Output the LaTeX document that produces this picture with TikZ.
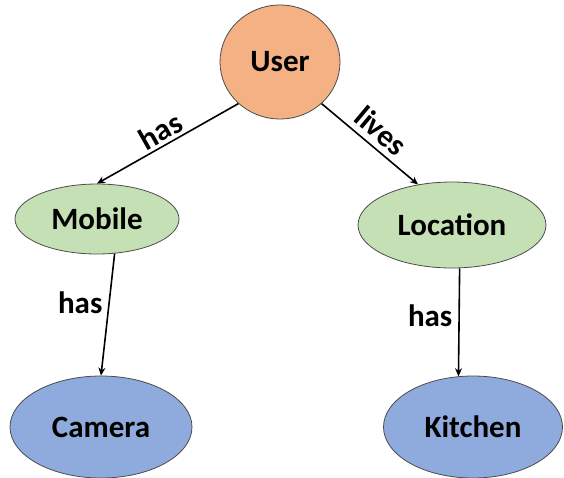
\documentclass[tikz,border=0pt]{standalone}
\usepackage{fontspec}
\setmainfont{Carlito}
\usetikzlibrary{shapes.geometric,arrows.meta,positioning}
\definecolor{userorange}{HTML}{F4B183}
\definecolor{midgreen}{HTML}{C5E0B4}
\definecolor{leafblue}{HTML}{8FAADC}
\tikzset{
	entity/.style = {ellipse, draw = black!70, line width = 0.8pt, inner sep = 0pt,
		font = \fontsize{31}{36}\selectfont\bfseries},
	rel/.style = {-{Stealth[length=8pt,width=7pt]}, line width = 1.6pt},
	rellabel/.style = {font = \fontsize{31}{36}\selectfont\bfseries, inner sep = 1pt}
}
\begin{document}
\begin{tikzpicture}[x=1pt,y=-1pt]
	\useasboundingbox (0,0) rectangle (564,477);
	\node (User)     at (280, 62)	[entity, fill = userorange, minimum width = 120, minimum height = 114]	{User};
	\node (Mobile)   at ( 97,219)	[entity, fill = midgreen, minimum width = 164, minimum height = 70]	{Mobile};
	\node (Location) at (452,225)	[entity, fill = midgreen, minimum width = 188, minimum height = 86]	{Location};
	\node (Camera)   at (101,427)	[entity, fill = leafblue, minimum width = 182, minimum height = 102]	{Camera};
	\node (Kitchen)  at (473,427)	[entity, fill = leafblue, minimum width = 179, minimum height = 102]	{Kitchen};
	\draw[rel] (User.225) -- node (l1) [rellabel, sloped, above = 2pt, pos = 0.5] {has} (Mobile.north);
	\draw[rel] (User.-45) -- node (l2) [rellabel, sloped, above = 5pt, pos = 0.5] {lives} (Location.130);
	\draw[rel] (Mobile.-63) -- node (l3) [rellabel, left = 5pt, pos = 0.4] {has} (Camera.north);
	\draw[rel] (Location.-80) -- node (l4) [rellabel, left = 5pt, pos = 0.44] {has} (Kitchen.106);
\end{tikzpicture}
\end{document}
